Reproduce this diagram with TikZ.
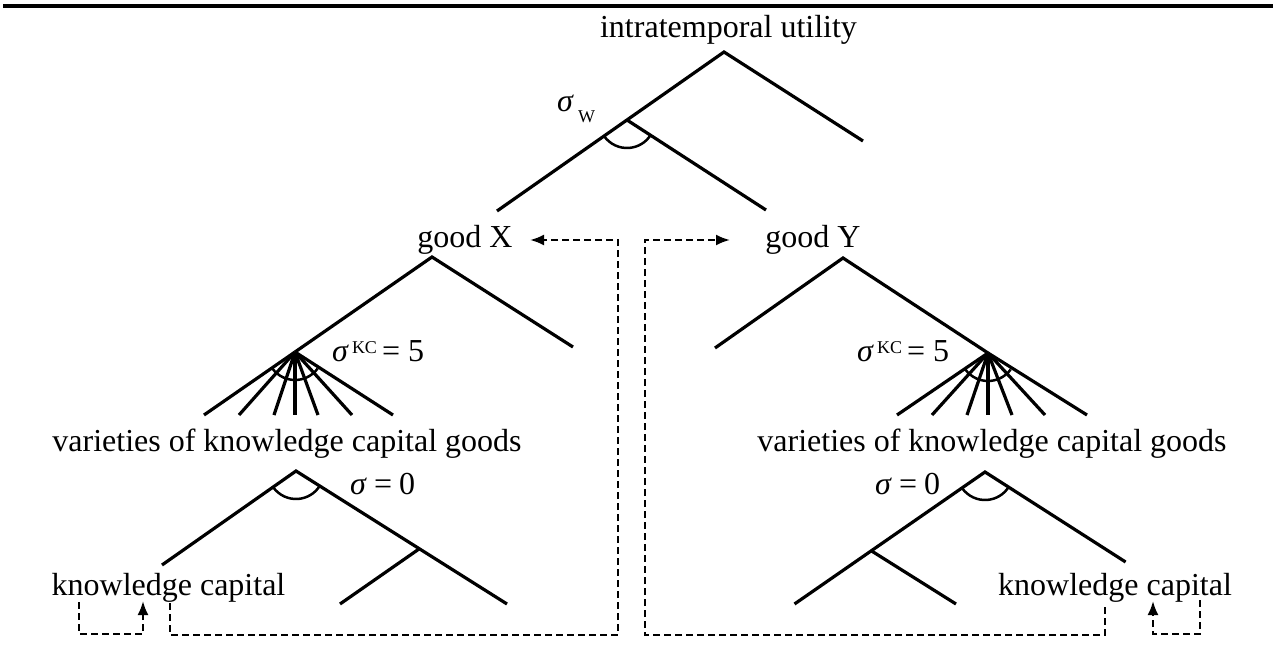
\documentclass[tikz,border=0pt]{standalone}
\usepackage{fontspec}
\setmainfont{Liberation Serif}
\usetikzlibrary{arrows.meta}
\begin{document}
\begin{tikzpicture}[x=1pt,y=-1pt,
  tree/.style={line width=3.2pt, line join=miter},
  bow/.style={line width=2.5pt},
  flow/.style={line width=2.3pt, dash pattern=on 7pt off 4pt},
  tip/.style={-{Latex[length=14pt,width=11pt]}},
  lbl/.style={inner sep=0pt, font=\fontsize{32}{38}\selectfont},
  rule/.style={line width=3.5pt}]
\useasboundingbox (0,0) rectangle (1276,655);
\fill[white] (0,0) rectangle (1276,655);
% top rule
\coordinate (r1) at (3,6);
\coordinate (r2) at (1273,6);
\draw[rule] (r1) -- (r2);

% ---------- labels ----------
\node[lbl, anchor=base] (title) at (728.5,38) {intratemporal utility};
\node[lbl, anchor=base] (goodX) at (465,247) {good X};
\node[lbl, anchor=base] (goodY) at (813,247) {good Y};
\node[lbl, anchor=base] (varL) at (287,451) {varieties of knowledge capital goods};
\node[lbl, anchor=base] (varR) at (992,451) {varieties of knowledge capital goods};
\node[lbl, anchor=base] (kcL) at (168.5,595) {knowledge capital};
\node[lbl, anchor=base] (kcR) at (1115,595) {knowledge capital};
\node[lbl, anchor=base west] (sigW) at (557,112)
  {\textit{σ}\hspace{4pt}\raisebox{-11pt}{\fontsize{18}{18}\selectfont W}};
\node[lbl, anchor=base west] (sigKCL) at (332,361)
  {\textit{σ}\hspace{3pt}\raisebox{8pt}{\fontsize{18}{18}\selectfont KC}\hspace{5pt}=\hspace{8pt}5};
\node[lbl, anchor=base west] (sigKCR) at (857,361)
  {\textit{σ}\hspace{3pt}\raisebox{8pt}{\fontsize{18}{18}\selectfont KC}\hspace{5pt}=\hspace{8pt}5};
\node[lbl, anchor=base west] (sigZL) at (350,494) {\textit{σ}\hspace{7pt}=\hspace{7pt}0};
\node[lbl, anchor=base west] (sigZR) at (875,494) {\textit{σ}\hspace{7pt}=\hspace{7pt}0};

% ---------- top tree ----------
\coordinate (A1) at (724,52);
\coordinate (A1r) at (863,141);
\coordinate (A1l) at (497,211);
\coordinate (B1) at (627,120);
\coordinate (B1r) at (766,210);
\draw[tree] (A1l) -- (A1) -- (A1r);
\draw[tree] (B1) -- (B1r);
\draw[bow] (B1) ++(145:28) arc[start angle=145, end angle=33, radius=28];

% ---------- middle left tree ----------
\coordinate (A2) at (432,257);
\coordinate (A2r) at (573,347);
\coordinate (F1) at (295,352);
\draw[tree] (F1) -- (A2) -- (A2r);
\foreach \xx in {204,239,274,295,318,352,393}
  \draw[tree] (F1) -- (\xx,415);
\draw[bow] (F1) ++(144:28) arc[start angle=144, end angle=36, radius=28];

% ---------- middle right tree ----------
\coordinate (A3) at (843,258);
\coordinate (A3l) at (715,348);
\coordinate (F2) at (988,353);
\draw[tree] (A3l) -- (A3) -- (F2);
\foreach \xx in {897,932,967,988,1012,1045,1087}
  \draw[tree] (F2) -- (\xx,415);
\draw[bow] (F2) ++(144:28) arc[start angle=144, end angle=36, radius=28];

% ---------- lower left tree ----------
\coordinate (A4) at (296,471);
\coordinate (A4l) at (162,565);
\coordinate (A4r) at (507,604);
\coordinate (B4) at (419,549);
\coordinate (B4l) at (340,604);
\draw[tree] (A4l) -- (A4) -- (A4r);
\draw[tree] (B4) -- (B4l);
\draw[bow] (A4) ++(145:28) arc[start angle=145, end angle=33, radius=28];

% ---------- lower right tree ----------
\coordinate (A5) at (985,472);
\coordinate (A5l) at (794.5,604);
\coordinate (A5r) at (1125.6,562);
\coordinate (B5) at (871.6,551);
\coordinate (B5r) at (956,604);
\draw[tree] (A5l) -- (A5) -- (A5r);
\draw[tree] (B5) -- (B5r);
\draw[bow] (A5) ++(145:28) arc[start angle=145, end angle=33, radius=28];

% ---------- dashed connectors ----------
\coordinate (l1) at (79,602);
\coordinate (l2) at (143,601);
\draw[flow, tip] (l1) -- (79,634) -- (143,634) -- (l2);
\coordinate (m1) at (170,603);
\coordinate (m2) at (530,240);
\draw[flow, tip] (m1) -- (170,635) -- (618,635) -- (618,240) -- (m2);
\coordinate (n1) at (1105,607);
\coordinate (n2) at (730,240);
\draw[flow, tip] (n1) -- (1105,635) -- (645,635) -- (645,240) -- (n2);
\coordinate (p1) at (1200,600);
\coordinate (p2) at (1153,601);
\draw[flow, tip] (p1) -- (1200,634) -- (1153,634) -- (p2);
\end{tikzpicture}
\end{document}
